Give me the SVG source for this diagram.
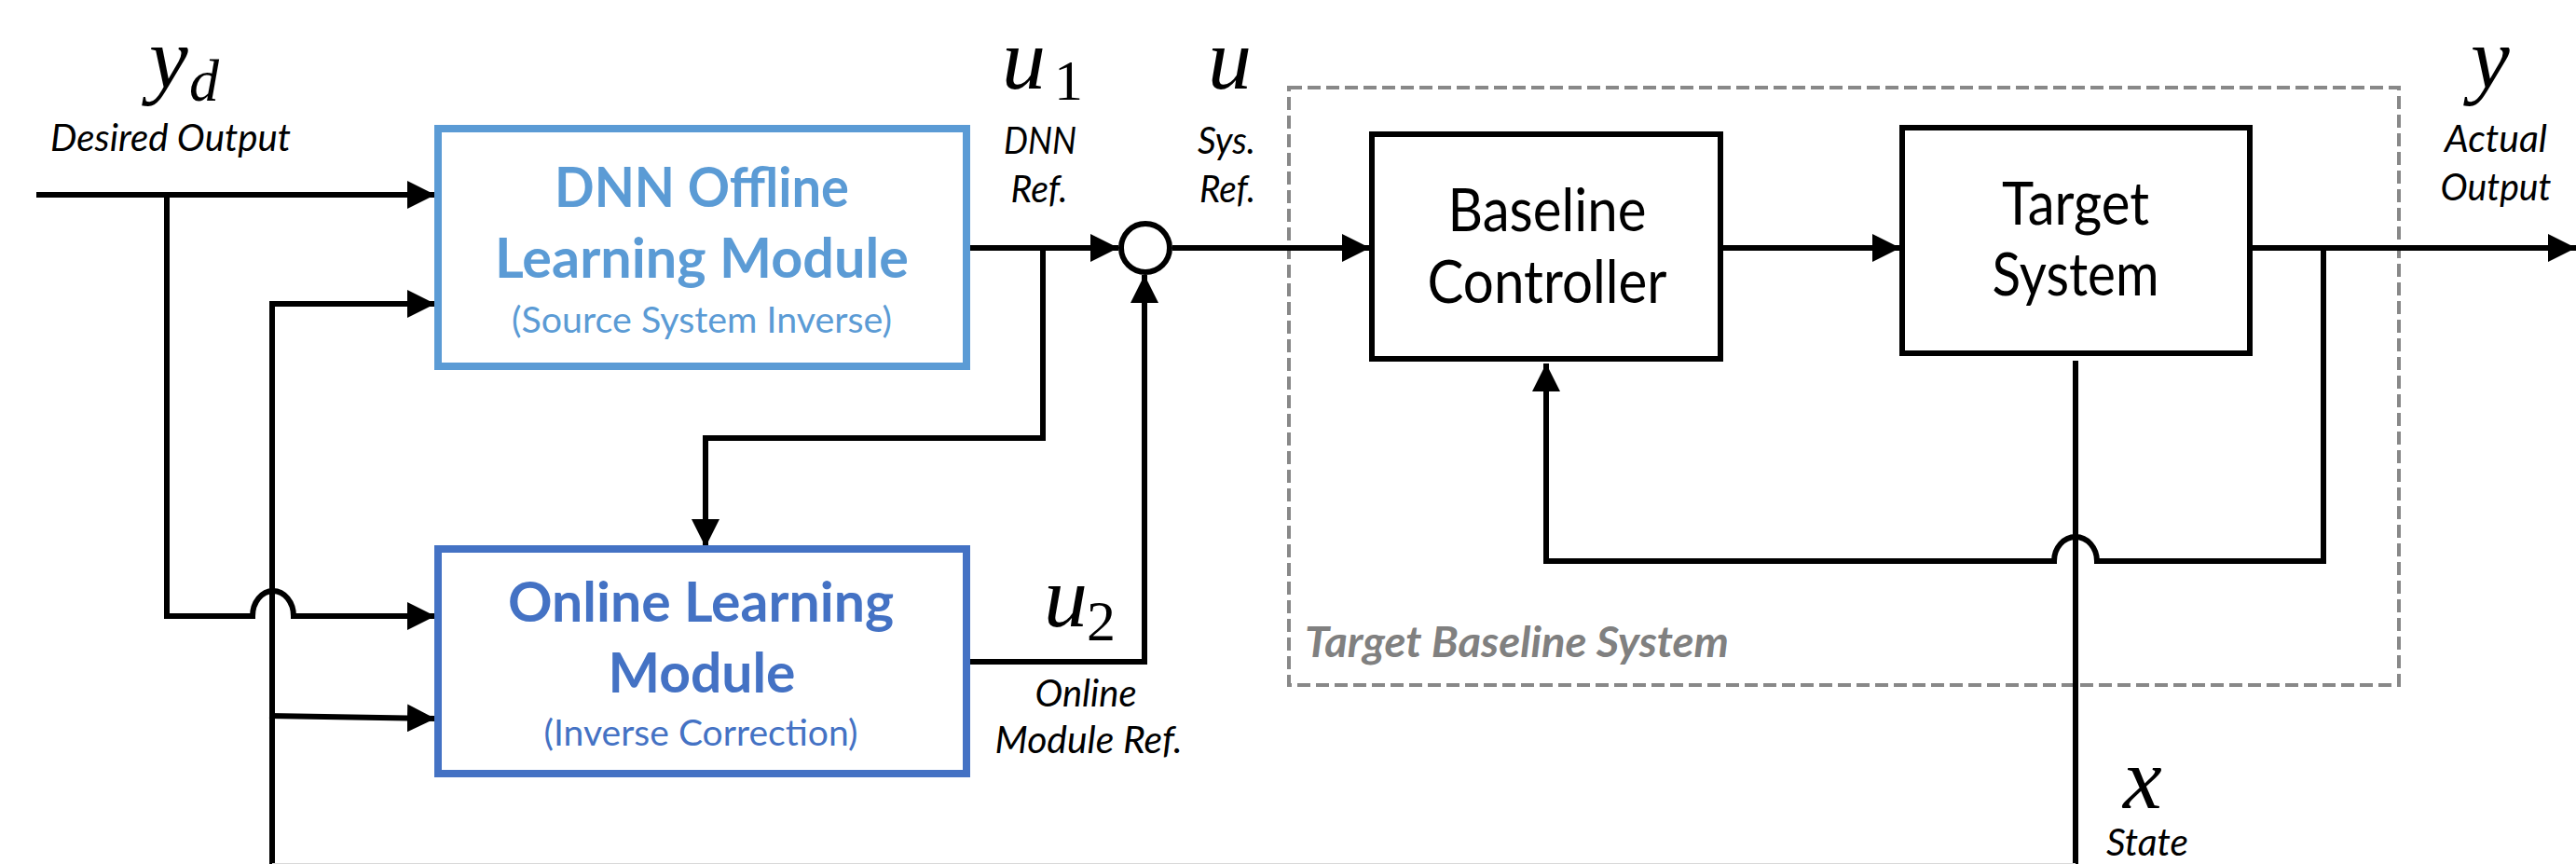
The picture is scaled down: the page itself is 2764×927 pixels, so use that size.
<svg xmlns="http://www.w3.org/2000/svg" width="2764" height="927" viewBox="0 0 2764 927">
  <defs>
    <marker id="arrow" markerUnits="userSpaceOnUse" markerWidth="30" markerHeight="30" refX="30" refY="15" orient="auto">
      <path d="M0,0 L30,15 L0,30 Z" fill="#000"/>
    </marker>
    <style>
      .wire { fill: none; stroke: #000; stroke-width: 6; }
      .box { fill: #fff; stroke: #000; stroke-width: 6; }
      .math { font-family: "Liberation Serif", "Times New Roman", serif; font-style: italic; fill: #000; }
      .sub { font-family: "Liberation Serif", "Times New Roman", serif; fill: #000; }
      .lbl { font-family: Lato, "Liberation Sans", sans-serif; font-style: italic; font-size: 41px; fill: #000; text-anchor: middle; }
      .title { font-family: Lato, "Liberation Sans", sans-serif; font-weight: bold; font-size: 60px; text-anchor: middle; }
      .note { font-family: Lato, "Liberation Sans", sans-serif; font-size: 39px; text-anchor: middle; }
      .plain { font-family: Lato, "Liberation Sans", sans-serif; font-size: 63px; fill: #000; text-anchor: middle; }
    </style>
  </defs>
  <rect width="2764" height="927" fill="#fff"/>

  <!-- target baseline system boundary -->
  <g id="baseline-system">
    <rect x="1383" y="94" width="1191" height="641" fill="none" stroke="#888" stroke-width="4" stroke-dasharray="14 6"/>
    <text x="1400" y="705" font-family="Lato, 'Liberation Sans', sans-serif" font-weight="bold" font-style="italic" font-size="45" fill="#808080" textLength="455" lengthAdjust="spacingAndGlyphs">Target Baseline System</text>
  </g>

  <!-- connectors -->
  <g id="connectors">
    <path class="wire" d="M39,209 H467" marker-end="url(#arrow)"/>
    <path class="wire" d="M179,209 V661 H271 A22,27 0 0 1 315,661 H467" marker-end="url(#arrow)"/>
    <path class="wire" d="M292,930 V326 H467" marker-end="url(#arrow)"/>
    <path class="wire" d="M289,768 L467,771" marker-end="url(#arrow)"/>
    <path class="wire" d="M1037,266 H1200" marker-end="url(#arrow)"/>
    <path class="wire" d="M1119,266 V470 H757 V587" marker-end="url(#arrow)"/>
    <path class="wire" d="M1037,710 H1228 V295" marker-end="url(#arrow)"/>
    <path class="wire" d="M1258,266 H1470" marker-end="url(#arrow)"/>
    <path class="wire" d="M1846,266 H2039" marker-end="url(#arrow)"/>
    <path class="wire" d="M2414,266 H2764" marker-end="url(#arrow)"/>
    <path class="wire" d="M2493,266 V602 H2250 A23,26 0 0 0 2204,602 H1659 V390" marker-end="url(#arrow)"/>
    <path class="wire" d="M2227,387 V930"/>
    <rect x="292" y="926" width="1935" height="1" fill="#d9d9d9"/>
  </g>

  <!-- DNN offline learning module -->
  <g id="dnn-offline">
    <rect x="470" y="138" width="567" height="255" fill="#fff" stroke="#5B9BD5" stroke-width="8"/>
    <text class="title" x="753" y="222" fill="#5B9BD5" textLength="316" lengthAdjust="spacingAndGlyphs">DNN Offline</text>
    <text class="title" x="753" y="298" fill="#5B9BD5" textLength="444" lengthAdjust="spacingAndGlyphs">Learning Module</text>
    <text class="note" x="753" y="357" fill="#5B9BD5" textLength="408" lengthAdjust="spacingAndGlyphs">(Source System Inverse)</text>
  </g>

  <!-- online learning module -->
  <g id="online-learning">
    <rect x="470" y="589" width="567" height="241" fill="#fff" stroke="#4472C4" stroke-width="8"/>
    <text class="title" x="752" y="667" fill="#4472C4" textLength="414" lengthAdjust="spacingAndGlyphs">Online Learning</text>
    <text class="title" x="753" y="743" fill="#4472C4" textLength="201" lengthAdjust="spacingAndGlyphs">Module</text>
    <text class="note" x="752" y="800" fill="#4472C4" textLength="337" lengthAdjust="spacingAndGlyphs">(Inverse Correction)</text>
  </g>

  <!-- summing junction -->
  <g id="sum">
    <circle cx="1229" cy="266" r="26" fill="#fff" stroke="#000" stroke-width="6"/>
  </g>

  <!-- baseline controller -->
  <g id="baseline-controller">
    <rect class="box" x="1472" y="144" width="374" height="241"/>
    <text class="plain" x="1660" y="248" textLength="213" lengthAdjust="spacingAndGlyphs">Baseline</text>
    <text class="plain" x="1660" y="325" textLength="257" lengthAdjust="spacingAndGlyphs">Controller</text>
  </g>

  <!-- target system -->
  <g id="target-system">
    <rect class="box" x="2041" y="137" width="373" height="242"/>
    <text class="plain" x="2227" y="241" textLength="158" lengthAdjust="spacingAndGlyphs">Target</text>
    <text class="plain" x="2227" y="317" textLength="179" lengthAdjust="spacingAndGlyphs">System</text>
  </g>

  <!-- signal labels -->
  <g id="signal-labels">
    <text class="math" x="160" y="94" font-size="94">y</text>
    <text class="math" x="203" y="108" font-size="64">d</text>
    <text class="lbl" x="183" y="162" textLength="258" lengthAdjust="spacingAndGlyphs">Desired Output</text>

    <text class="math" x="1075" y="95" font-size="94">u</text>
    <text class="sub" x="1131" y="107" font-size="62">1</text>
    <text class="lbl" x="1116" y="165" textLength="78" lengthAdjust="spacingAndGlyphs">DNN</text>
    <text class="lbl" x="1115" y="217" textLength="61" lengthAdjust="spacingAndGlyphs">Ref.</text>

    <text class="math" x="1296" y="95" font-size="94">u</text>
    <text class="lbl" x="1316" y="165" textLength="62" lengthAdjust="spacingAndGlyphs">Sys.</text>
    <text class="lbl" x="1317" y="217" textLength="60" lengthAdjust="spacingAndGlyphs">Ref.</text>

    <text class="math" x="1120" y="672" font-size="94">u</text>
    <text class="sub" x="1166" y="687" font-size="62">2</text>
    <text class="lbl" x="1165" y="758" textLength="109" lengthAdjust="spacingAndGlyphs">Online</text>
    <text class="lbl" x="1168" y="808" textLength="201" lengthAdjust="spacingAndGlyphs">Module Ref.</text>

    <text class="math" x="2651" y="94" font-size="94">y</text>
    <text class="lbl" x="2678" y="163" textLength="110" lengthAdjust="spacingAndGlyphs">Actual</text>
    <text class="lbl" x="2678" y="215" textLength="119" lengthAdjust="spacingAndGlyphs">Output</text>

    <text class="math" x="2278" y="867" font-size="94">x</text>
    <text class="lbl" x="2304" y="918" textLength="88" lengthAdjust="spacingAndGlyphs">State</text>
  </g>
</svg>
